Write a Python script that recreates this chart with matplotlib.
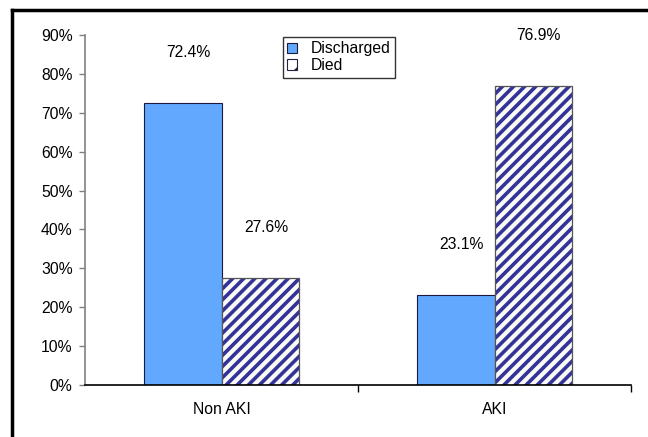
import matplotlib
matplotlib.use("Agg")
import matplotlib.pyplot as plt
from matplotlib.lines import Line2D
from matplotlib.patches import Patch
import numpy as np

categories = ["Non AKI", "AKI"]
series_names = ["Discharged", "Died"]
discharged = [72.4, 23.1]
died = [27.6, 76.9]
yticks = [0, 10, 20, 30, 40, 50, 60, 70, 80, 90]

plt.rcParams["font.family"] = ["Liberation Sans", "DejaVu Sans"]
plt.rcParams["hatch.linewidth"] = 2.6

fig = plt.figure(figsize=(6.48, 4.37), dpi=100)
ax = fig.add_axes([0.1312, 0.119, 0.8426, 0.801])

x = np.arange(len(categories))
w = 0.285
blue = "#62A8FF"
navy = "#333399"
fs = 11.3
ax.bar(x - w / 2, discharged, w, color=blue, edgecolor="#1a1a40", linewidth=0.8)
ax.bar(x + w / 2, died, w, color="#fbfbf5", edgecolor=navy, hatch="///", linewidth=0)
ax.bar(x + w / 2, died, w, fill=False, edgecolor="#555555", linewidth=0.9)

for xs, vals in ((x - w / 2, discharged), (x + w / 2, died)):
    for xi, v in zip(xs, vals):
        ax.text(xi + 0.02, v + 13, f"{v:.1f}%", ha="center", va="center", fontsize=fs,
                color="black")

ax.set_xlim(-0.5, 1.5)
ax.set_ylim(0, 90)
ax.set_yticks(yticks)
ax.set_yticklabels([f"{t}%" for t in yticks], fontsize=fs)
ax.set_xticks(x)
ax.set_xticklabels(categories, fontsize=fs)
ax.tick_params(axis="x", length=0, pad=12)
ax.set_xticks([0.5, 1.5], minor=True)
ax.tick_params(axis="x", which="minor", length=5, width=1, color="black", direction="out")
ax.tick_params(axis="y", length=4, width=1, color="#808080", direction="out", pad=5)

for s in ("top", "right"):
    ax.spines[s].set_visible(False)
ax.spines["left"].set_color("#808080")
ax.spines["left"].set_linewidth(1.2)
ax.spines["bottom"].set_color("black")
ax.spines["bottom"].set_linewidth(1.2)

handles = [Patch(facecolor=blue, edgecolor="#1a1a40", linewidth=0.8),
           Patch(facecolor="white", edgecolor="#222244", hatch="/", linewidth=0.8)]
leg = ax.legend(handles, series_names, loc="upper left", bbox_to_anchor=(0.362, 0.995),
                borderaxespad=0, fontsize=fs, frameon=True, fancybox=False,
                handlelength=0.64, handleheight=0.64, handletextpad=0.85, borderpad=0.3,
                labelspacing=0.1)
leg.get_frame().set_edgecolor("black")
leg.get_frame().set_linewidth(1.0)

# outer border (left and top)
fig.add_artist(Line2D([12 / 648, 12 / 648], [0, 1 - 10 / 437], transform=fig.transFigure,
                      color="black", linewidth=2.5))
fig.add_artist(Line2D([12 / 648, 1], [1 - 10 / 437, 1 - 10 / 437], transform=fig.transFigure,
                      color="black", linewidth=2.5))

fig.savefig("out.png", dpi=100)
